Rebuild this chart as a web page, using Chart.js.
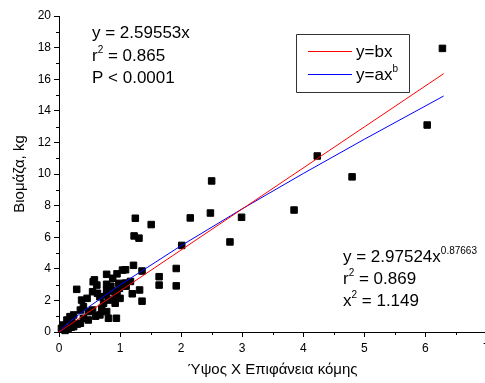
<!DOCTYPE html>
<html>
<head>
<meta charset="utf-8">
<script src="https://cdn.jsdelivr.net/npm/chart.js@4/dist/chart.umd.min.js"></script>
<style>
html,body{margin:0;padding:0;background:#fff;overflow:hidden;}
#wrap{width:485px;height:383px;position:relative;overflow:hidden;}
</style>
</head>
<body>
<div id="wrap"><canvas id="c" width="492" height="383"></canvas></div>
<script>
// Observed data (x = height × crown area, y = biomass kg)
const obsX = [6.28,6.03,4.80,4.23,3.85,2.99,2.80,2.50,2.48,2.15,2.01,1.51,1.25,1.23,1.31,1.92,1.92,1.64,1.64,1.36,1.32,1.22,1.36,1.20,
  1.04,1.09,0.95,0.78,0.98,1.09,1.17,0.99,0.89,0.92,1.00,0.92,0.78,0.81,0.94,0.67,0.62,0.56,0.55,0.78,0.78,0.78,0.67,0.73,0.63,0.46,
  0.37,0.29,0.40,0.35,0.48,0.55,0.48,0.35,0.24,0.21,0.13,0.07,0.04,0.15,0.24,0.40,0.18,0.30,0.10,0.20,0.60,0.70,0.85,0.88,0.58,1.10,
  0.81,0.95];
const obsY = [17.95,13.10,9.82,11.14,7.72,7.26,5.70,9.56,7.53,7.22,5.48,6.80,7.20,6.08,5.94,4.02,2.92,3.50,2.97,1.95,2.66,4.22,3.86,2.42,
  3.92,3.94,3.68,3.65,3.08,3.10,3.20,2.76,2.59,2.13,2.13,1.82,1.29,0.87,0.87,1.08,2.97,3.18,2.55,3.02,2.66,2.34,2.23,1.82,2.45,2.13,
  2.02,2.70,1.60,1.39,1.29,1.39,0.76,0.55,1.08,0.65,0.76,0.44,0.23,0.23,0.34,0.87,0.97,0.50,0.10,0.30,1.00,1.50,2.90,3.40,3.30,2.90,
  2.02,2.34];
// Fitted line (y = b x, b = 2.59553)
const linX = [0, 6.3];
const linY = [0, 16.35];
// Power fit (y = 2.97524 x^0.87663)
const powX = [0, 0.05, 0.2, 0.5, 1, 2, 3, 4, 5, 6.3];
const powY = [0, 0.216, 0.726, 1.621, 2.975, 5.463, 7.795, 10.03, 12.197, 14.935];
const xTicks = [0,1,2,3,4,5,6,7];
const yTicks = [0,2,4,6,8,10,12,14,16,18,20];
const legendLabels = ['y=bx', 'y=ax'];
const FONT = "'Liberation Sans', Arial, sans-serif";

const pts = (xs, ys) => xs.map((x,i)=>({x:x, y:ys[i]}));

const extras = {
  id:'extras',
  afterDraw(chart){
    const ctx = chart.ctx, xs = chart.scales.x, ys = chart.scales.y;
    ctx.save();
    // minor ticks
    ctx.strokeStyle = '#000'; ctx.lineWidth = 1;
    ctx.beginPath();
    for (let v=0.5; v<7; v+=1){ const px=Math.round(xs.getPixelForValue(v))+0.5; ctx.moveTo(px, xs.top); ctx.lineTo(px, xs.top+3); }
    for (let v=1; v<20; v+=2){ const py=Math.round(ys.getPixelForValue(v))+0.5; ctx.moveTo(ys.right, py); ctx.lineTo(ys.right-3, py); }
    ctx.stroke();
    // annotations
    ctx.fillStyle = '#000';
    ctx.textBaseline = 'alphabetic';
    ctx.textAlign = 'left';
    const big = '17px ' + FONT, sm = '10px ' + FONT;
    function sup(base, s, after, x, y){
      ctx.font = big; ctx.fillText(base, x, y);
      let w = ctx.measureText(base).width;
      ctx.font = sm; ctx.fillText(s, x+w, y-8);
      let w2 = ctx.measureText(s).width;
      if (after){ ctx.font = big; ctx.fillText(after, x+w+w2, y); }
    }
    ctx.font = big;
    ctx.fillText('y = 2.59553x', 92, 38);
    sup('r', '2', ' = 0.865', 92, 61);
    ctx.font = big; ctx.fillText('P < 0.0001', 92, 83);
    sup('y = 2.97524x', '0.87663', '', 343, 262);
    sup('r', '2', ' = 0.869', 343, 284);
    sup('x', '2', ' = 1.149', 343, 306);
    // legend
    ctx.strokeStyle = '#333'; ctx.lineWidth = 1;
    ctx.beginPath(); ctx.rect(296.5, 34.5, 113, 58); ctx.stroke();
    ctx.beginPath(); ctx.strokeStyle = '#ff0000';
    ctx.moveTo(308, 51.5); ctx.lineTo(352, 51.5); ctx.stroke();
    ctx.beginPath(); ctx.strokeStyle = '#0000ff';
    ctx.moveTo(308, 74.5); ctx.lineTo(352, 74.5); ctx.stroke();
    ctx.fillStyle = '#000';
    ctx.font = big; ctx.fillText(legendLabels[0], 356, 57);
    sup(legendLabels[1], 'b', '', 356, 80);
    ctx.restore();
  }
};

new Chart(document.getElementById('c'), {
  type: 'scatter',
  data: {
    datasets: [
      { data: pts(linX, linY), showLine: true, borderColor: '#ff0000', borderWidth: 1, pointRadius: 0, fill: false },
      { data: pts(powX, powY), showLine: true, borderColor: '#0000ff', borderWidth: 1, pointRadius: 0, fill: false, tension: 0 },
      { data: pts(obsX, obsY), pointStyle: 'rect', pointRadius: 4.6, backgroundColor: '#000', borderColor: '#000', borderWidth: 1, clip: false }
    ]
  },
  options: {
    responsive: false,
    animation: false,
    devicePixelRatio: 1,
    layout: { padding: { top: 16, right: 0, bottom: 0, left: 0 } },
    plugins: { legend: { display: false }, tooltip: { enabled: false } },
    scales: {
      x: {
        type: 'linear', min: 0, max: 7,
        afterFit(s){ s.height = 51; s.paddingLeft = 0; s.paddingRight = 0; },
        afterBuildTicks(s){ s.ticks = xTicks.map(v=>({value:v})); },
        border: { display: true, color: '#000', width: 1 },
        grid: { drawOnChartArea: false, drawTicks: true, tickLength: 5, tickColor: '#000', tickWidth: 1 },
        ticks: { autoSkip: false, maxRotation: 0, padding: 4, color: '#000', font: { family: FONT, size: 12 } },
        title: { display: true, text: 'Ύψος Χ Επιφάνεια κόμης', color: '#000', font: { family: FONT, size: 15 }, padding: { top: 0, bottom: 4 } }
      },
      y: {
        type: 'linear', min: 0, max: 20,
        afterFit(s){ s.width = 59; s.paddingTop = 0; s.paddingBottom = 0; },
        afterBuildTicks(s){ s.ticks = yTicks.map(v=>({value:v})); },
        border: { display: true, color: '#000', width: 1 },
        grid: { drawOnChartArea: false, drawTicks: true, tickLength: 5, tickColor: '#000', tickWidth: 1 },
        ticks: { autoSkip: false, padding: 3, color: '#000', font: { family: FONT, size: 12 } },
        title: { display: true, text: 'Βιομάζα, kg', color: '#000', font: { family: FONT, size: 15 }, padding: { top: 11, bottom: 0 } }
      }
    }
  },
  plugins: [extras]
});
</script>
</body>
</html>
